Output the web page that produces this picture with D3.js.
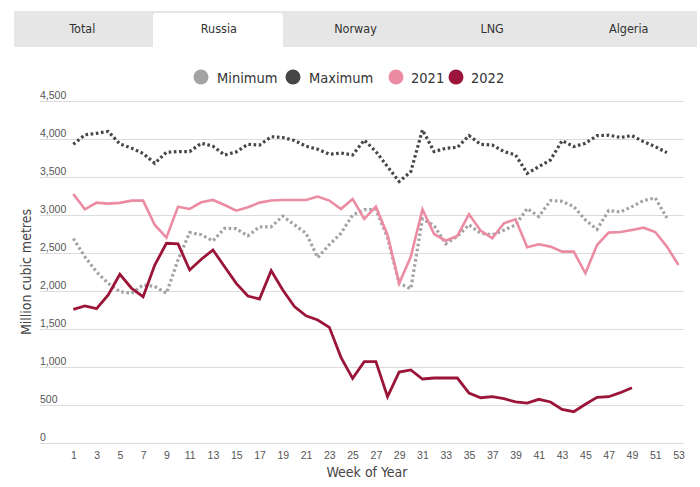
<!DOCTYPE html>
<html><head><meta charset="utf-8">
<script src="https://cdn.jsdelivr.net/npm/d3@7"></script>
<style>
body{margin:0;background:#fff;}
svg{display:block;font-family:"Liberation Sans Narrow","DejaVu Sans Condensed","Roboto Condensed",sans-serif;}
</style></head>
<body><svg id="c" width="700" height="487"></svg>
<script>
const tabs = ["Total","Russia","Norway","LNG","Algeria"];
const activeTab = "Russia";
const seriesNames = ["Minimum","Maximum","2021","2022"];
const yTicks = [0,500,1000,1500,2000,2500,3000,3500,4000,4500];
const xTicks = d3.range(1,54,2);

const minimum = [2690,2450,2250,2100,1990,1970,2080,2060,1970,2410,2770,2740,2660,2825,2820,2725,2845,2845,2985,2870,2760,2440,2610,2760,3000,3070,3075,2700,2100,2030,2950,2860,2620,2720,2870,2760,2740,2800,2870,3085,2980,3190,3180,3110,2935,2810,3060,3040,3110,3190,3225,2960];
const maximum = [3930,4055,4075,4100,3935,3880,3810,3680,3825,3835,3835,3945,3905,3790,3830,3930,3920,4030,4020,3980,3905,3865,3800,3815,3790,3985,3835,3636,3440,3570,4120,3834,3878,3890,4045,3930,3920,3834,3790,3549,3636,3724,3978,3900,3944,4044,4050,4020,4044,3965,3900,3820];
const y2021 = [3277,3075,3163,3150,3160,3189,3189,2869,2702,3110,3080,3167,3198,3132,3057,3101,3163,3190,3198,3198,3198,3242,3190,3079,3211,2948,3110,2737,2101,2452,3075,2750,2662,2724,3010,2794,2694,2891,2944,2575,2615,2584,2518,2518,2233,2605,2768,2776,2803,2833,2776,2584,2342];
const y2022 = [1759,1803,1768,1948,2220,2036,1925,2342,2628,2619,2277,2418,2540,2320,2101,1934,1895,2268,2013,1795,1673,1619,1522,1127,851,1070,1070,609,934,961,842,855,855,855,658,596,609,583,540,526,575,540,443,412,509,601,609,662,728];

const colors = {"Minimum":"#a3a3a3","Maximum":"#464646","2021":"#ec8ca2","2022":"#9b1538"};
const dataMap = {"Minimum":minimum,"Maximum":maximum,"2021":y2021,"2022":y2022};

const svg = d3.select("#c");

// Tabs
const tabX0 = 14, tabW = (697-14)/5;
svg.append("rect").attr("x",14).attr("y",11).attr("width",683).attr("height",36).attr("fill","#e6e6e6");
tabs.forEach((t,i)=>{
  const cx = tabX0 + tabW*i + tabW/2;
  if(t===activeTab){
    const x0 = 153, x1 = 283, y0 = 13, y1 = 47, r = 3;
    svg.append("path").attr("d",`M${x0},${y1}V${y0+r}Q${x0},${y0} ${x0+r},${y0}H${x1-r}Q${x1},${y0} ${x1},${y0+r}V${y1}Z`).attr("fill","#fff");
  }
  svg.append("text").attr("x",cx).attr("y",33).attr("text-anchor","middle").attr("font-size",12.5).attr("fill","#333").text(t);
});

// Legend
const legendPos = [{cx:201,tx:217},{cx:293,tx:309},{cx:396,tx:411},{cx:456,tx:471}];
seriesNames.forEach((s,i)=>{
  svg.append("circle").attr("cx",legendPos[i].cx).attr("cy",77).attr("r",7.5).attr("fill",colors[s]);
  svg.append("text").attr("x",legendPos[i].tx).attr("y",82.5).attr("font-size",14.5).attr("fill","#333").text(s);
});

const x = d3.scaleLinear().domain([1,53]).range([73.3,678.5]);
const y = d3.scaleLinear().domain([0,4500]).range([443,101]);

// Grid + y labels
const yAxis = d3.axisLeft(y).tickValues(yTicks).tickSize(-(684-40)).tickFormat("");
const gy = svg.append("g").attr("transform","translate(40,0)").call(yAxis);
gy.select(".domain").remove();
gy.selectAll(".tick line").attr("stroke","#dcdcdc").attr("stroke-width",1.2);
gy.selectAll(".tick").append("text").attr("x",0).attr("y",-3).attr("text-anchor","start")
  .attr("font-size",10.5).attr("fill","#555").text(d=>d3.format(",")(d));

// x labels
const xAxis = d3.axisBottom(x).tickValues(xTicks).tickSize(0).tickFormat(d3.format("d"));
const gx = svg.append("g").attr("transform","translate(0,449)").call(xAxis);
gx.select(".domain").remove();
gx.selectAll(".tick text").attr("font-size",10.5).attr("fill","#555").attr("font-family","inherit");

svg.append("text").attr("x",367).attr("y",477).attr("text-anchor","middle").attr("font-size",14).attr("fill","#444").text("Week of Year");
svg.append("text").attr("transform","translate(31,272) rotate(-90)").attr("text-anchor","middle").attr("font-size",14).attr("fill","#444").text("Million cubic metres");

const line = d3.line().x((d,i)=>x(i+1)).y(d=>y(d)).curve(d3.curveLinear);

["Minimum","Maximum"].forEach(s=>{
  svg.append("path").datum(dataMap[s]).attr("d",line).attr("fill","none")
    .attr("stroke",colors[s]).attr("stroke-width",3.2).attr("stroke-dasharray","2.6 2.6");
});
["2021","2022"].forEach(s=>{
  svg.append("path").datum(dataMap[s]).attr("d",line).attr("fill","none")
    .attr("stroke",colors[s]).attr("stroke-width",s==="2022"?2.8:2.6).attr("stroke-linejoin","miter");
});
</script></body></html>
